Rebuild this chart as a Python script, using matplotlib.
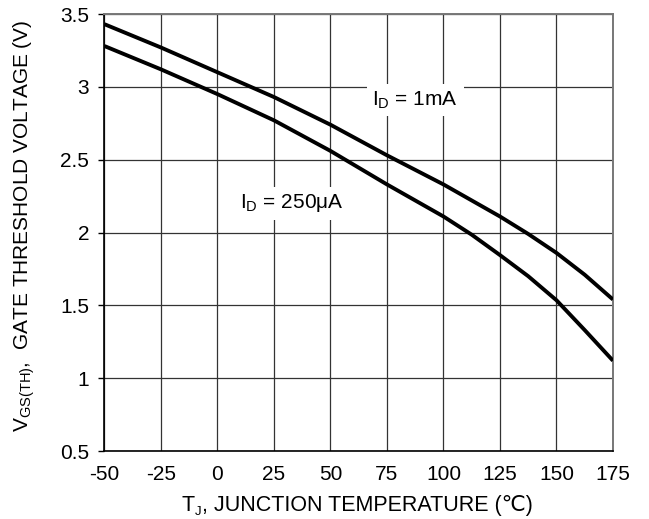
import matplotlib
matplotlib.use("Agg")
import matplotlib.pyplot as plt

plt.rcParams['font.family'] = ['Liberation Sans', 'DejaVu Sans']
plt.rcParams['mathtext.fontset'] = 'custom'
plt.rcParams['mathtext.rm'] = 'Liberation Sans'
plt.rcParams['axes.unicode_minus'] = False

# --- Data: junction temperature (C) vs gate threshold voltage (V) ---
TEMP = [-50, -25, 0, 25, 50, 75, 100, 112.5, 125, 137.5, 150, 162.5, 175]
VTH_1MA = [3.43, 3.27, 3.10, 2.93, 2.74, 2.53, 2.33, 2.22, 2.11, 1.99, 1.86, 1.71, 1.54]
VTH_250UA = [3.28, 3.12, 2.95, 2.77, 2.56, 2.33, 2.11, 1.985, 1.845, 1.70, 1.535, 1.33, 1.12]

X_TICKS = [-50, -25, 0, 25, 50, 75, 100, 125, 150, 175]
Y_TICKS = [0.5, 1, 1.5, 2, 2.5, 3, 3.5]
Y_LABELS = ["0.5", "1", "1.5", "2", "2.5", "3", "3.5"]

FS = 15

fig = plt.figure(figsize=(6.49, 5.19), dpi=100)
ax = fig.add_axes([0.161, 0.131, 0.7835, 0.842])

ax.plot(TEMP, VTH_1MA, color='black', lw=2.8, solid_capstyle='butt', zorder=3)
ax.plot(TEMP, VTH_250UA, color='black', lw=2.8, solid_capstyle='butt', zorder=3)

ax.set_xlim(-50, 175)
ax.set_ylim(0.5, 3.5)
ax.set_xticks(X_TICKS)
ax.set_yticks(Y_TICKS)
ax.set_yticklabels(Y_LABELS)
ax.grid(True, color='#333333', lw=0.9)
ax.set_axisbelow(True)

ax.tick_params(axis='x', length=0, pad=10, labelsize=FS)
ax.tick_params(axis='y', length=4, width=1, pad=7, labelsize=FS)

for side in ['left', 'bottom']:
    ax.spines[side].set_color('black')
    ax.spines[side].set_linewidth(1.2)
for side in ['top', 'right']:
    ax.spines[side].set_color('#777777')
    ax.spines[side].set_linewidth(1.4)

box = dict(facecolor='white', edgecolor='none', pad=4)
ax.text(87.5, 2.91, r'$\mathregular{I_D}$ = 1mA', ha='center', va='center',
        fontsize=FS, bbox=box, zorder=4)
ax.text(33, 2.20, r'$\mathregular{I_D}$ = 250μA', ha='center', va='center',
        fontsize=FS, bbox=box, zorder=4)

# x label built from pieces so the degree-Celsius sign can fall back to DejaVu
t_main = ax.text(0.152, -0.138, "T", transform=ax.transAxes, fontsize=15.5,
                 ha='left', va='baseline')
t_sub = ax.annotate("J", xy=(1, 0), xycoords=t_main, xytext=(0, -1.5),
                    textcoords='offset points', fontsize=9.5,
                    ha='left', va='bottom')
ax.annotate(", JUNCTION TEMPERATURE (℃)", xy=(1, 0), xycoords=(t_sub, t_main),
            fontsize=15.5, ha='left', va='bottom')

ax.set_ylabel(r'$\mathregular{V_{GS(TH)}}$,  GATE THRESHOLD VOLTAGE (V)', fontsize=15)
ax.yaxis.set_label_coords(-0.133, 0.515)

fig.savefig("out.png", dpi=100)
